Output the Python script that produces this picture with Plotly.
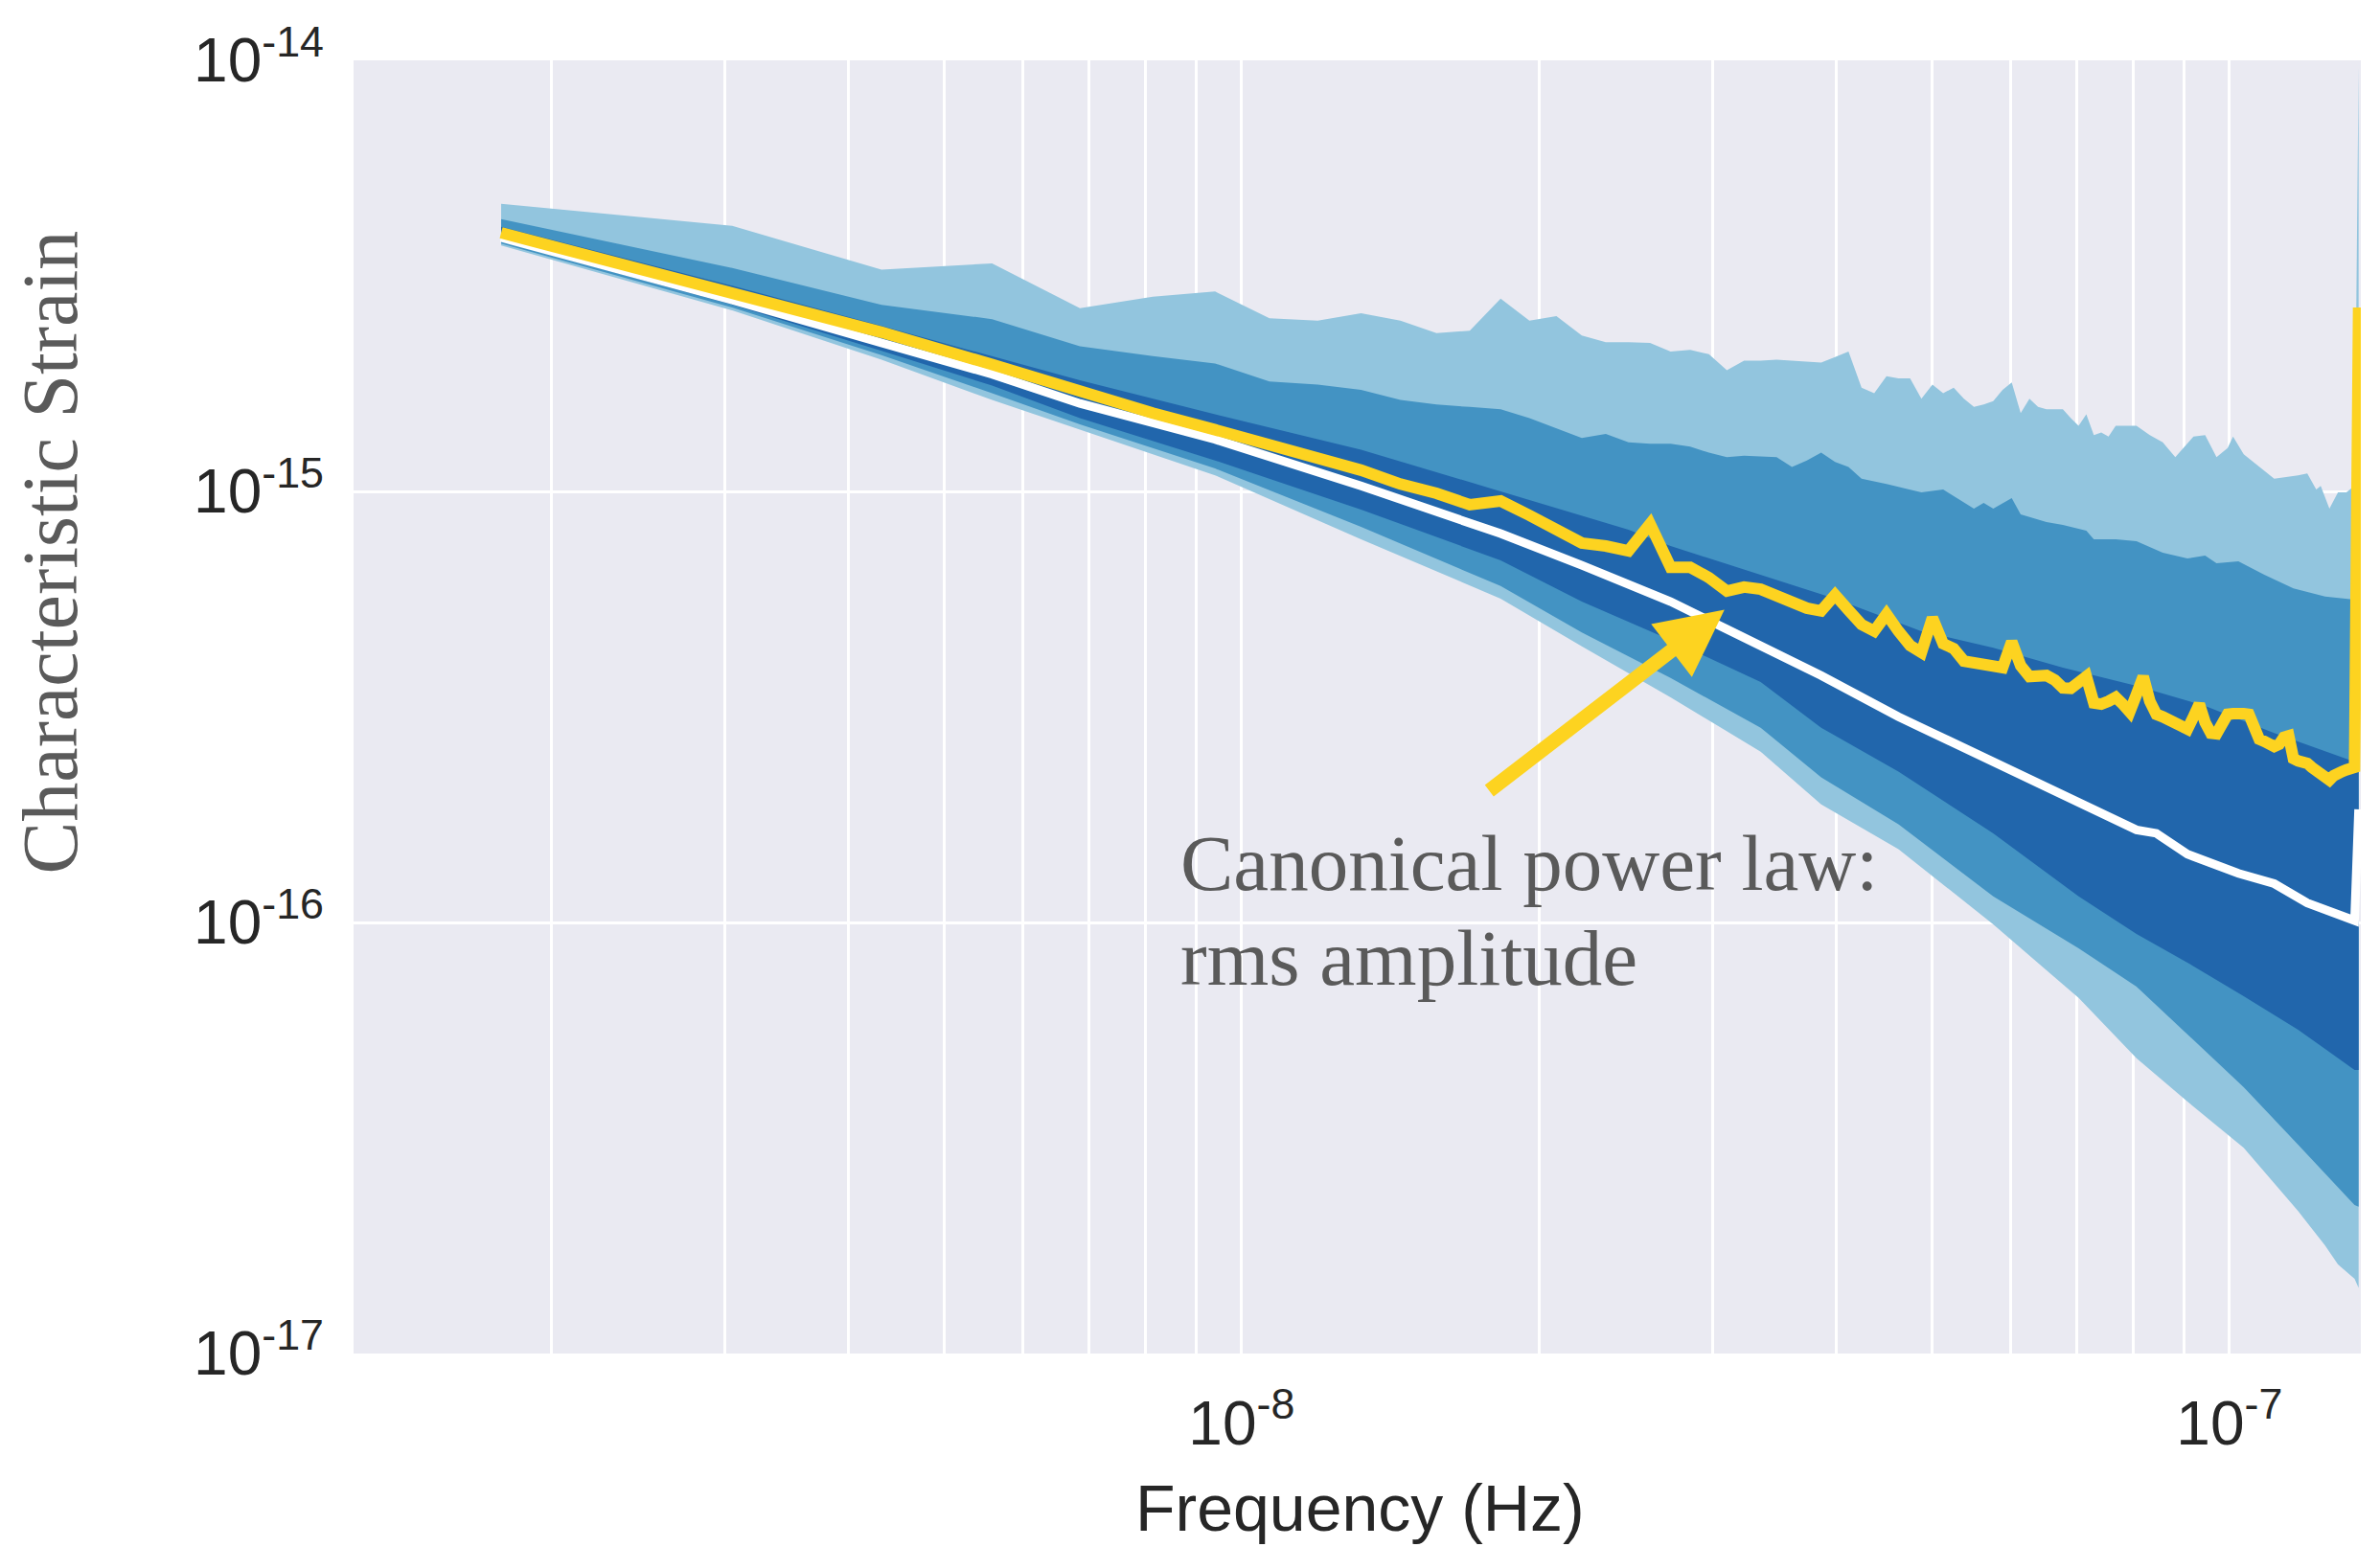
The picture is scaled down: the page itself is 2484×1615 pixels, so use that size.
import plotly.graph_objects as go

# ---------------- data ----------------
# frequency bins (nHz)
freq_nhz = [1.78, 3.05, 4.32, 5.59, 6.86, 8.13, 9.40, 10.67, 11.94, 13.21,
            14.48, 15.75, 17.02, 18.29, 19.56, 20.83, 22.10, 23.37, 24.64, 25.91,
            27.18, 28.45, 29.72, 30.99, 32.26, 33.53, 34.80, 36.07, 37.34, 38.61,
            39.88, 41.15, 42.42, 43.69, 44.96, 46.23, 47.50, 48.77, 50.04, 51.31,
            52.58, 53.85, 55.12, 56.39, 57.66, 58.93, 60.20, 61.47, 62.74, 64.01,
            65.28, 66.55, 67.82, 69.09, 70.36, 71.63, 72.90, 74.17, 75.44, 76.71,
            77.98, 79.25, 80.52, 81.79, 83.06, 84.33, 85.60, 86.87, 88.14, 89.41,
            90.68, 91.95, 93.22, 94.49, 95.76, 97.03, 98.30, 99.57, 100.84, 102.11,
            103.38, 104.65, 105.92, 107.19, 108.46, 109.73, 111.00, 112.27, 113.54, 114.81,
            116.08, 117.35, 118.62, 119.89, 121.16, 122.43, 123.70, 124.97, 126.24, 127.51,
            128.78, 130.05, 131.32, 132.59, 133.86, 135.13]

# canonical power law: rms amplitude (yellow)
rms_strain = [3.98e-15, 2.90e-15, 2.34e-15, 1.97e-15, 1.70e-15, 1.52e-15, 1.39e-15, 1.28e-15, 1.20e-15, 1.12e-15,
              1.04e-15, 9.90e-16, 9.31e-16, 9.50e-16, 8.80e-16, 8.19e-16, 7.59e-16, 7.47e-16, 7.28e-16, 8.40e-16,
              6.67e-16, 6.67e-16, 6.31e-16, 5.87e-16, 6.00e-16, 5.93e-16, 5.70e-16, 5.52e-16, 5.36e-16, 5.28e-16,
              5.75e-16, 5.30e-16, 4.91e-16, 4.74e-16, 5.19e-16, 4.74e-16, 4.39e-16, 4.23e-16, 5.09e-16, 4.43e-16,
              4.32e-16, 4.04e-16, 4.00e-16, 3.96e-16, 3.94e-16, 3.90e-16, 4.48e-16, 3.94e-16, 3.72e-16, 3.72e-16,
              3.74e-16, 3.65e-16, 3.50e-16, 3.49e-16, 3.58e-16, 3.72e-16, 3.23e-16, 3.21e-16, 3.26e-16, 3.33e-16,
              3.21e-16, 3.08e-16, 3.38e-16, 3.72e-16, 3.26e-16, 3.04e-16, 3.00e-16, 2.94e-16, 2.90e-16, 2.84e-16,
              2.81e-16, 3.00e-16, 3.21e-16, 2.91e-16, 2.75e-16, 2.74e-16, 2.90e-16, 3.04e-16, 3.05e-16, 3.07e-16,
              3.05e-16, 3.04e-16, 2.81e-16, 2.66e-16, 2.63e-16, 2.59e-16, 2.56e-16, 2.59e-16, 2.69e-16, 2.71e-16,
              2.40e-16, 2.37e-16, 2.36e-16, 2.34e-16, 2.29e-16, 2.24e-16, 2.20e-16, 2.15e-16, 2.14e-16, 2.19e-16,
              2.23e-16, 2.24e-16, 2.26e-16, 2.27e-16, 2.29e-16, 2.67e-15]

# median (white line)
median_bins = [0, 1, 2, 3, 4, 6, 9, 13, 16, 20, 23, 29, 35, 44, 46, 52, 62, 65, 70, 79, 86, 93, 104, 105]
median_strain = [3.88e-15, 2.78e-15, 2.21e-15, 1.87e-15, 1.60e-15, 1.32e-15, 1.03e-15, 7.98e-16, 6.74e-16, 5.55e-16,
                 4.79e-16, 3.74e-16, 3.00e-16, 2.36e-16, 2.26e-16, 1.98e-16, 1.64e-16, 1.61e-16, 1.44e-16, 1.30e-16,
                 1.23e-16, 1.11e-16, 1.01e-16, 1.83e-16]

# outer band (light) upper edge
outer_upper_bins = list(range(0, 51)) + [52, 53, 54, 55, 56, 57, 58, 59, 60, 62, 64, 66, 68, 71, 73, 75, 77, 78,
                                         80, 83, 86, 91, 93, 95, 96, 98, 100, 102, 104, 105]
outer_upper_strain = [4.65e-15, 4.13e-15, 3.27e-15, 3.38e-15, 2.66e-15, 2.83e-15, 2.91e-15, 2.52e-15, 2.49e-15, 2.59e-15,
                      2.49e-15, 2.33e-15, 2.36e-15, 2.80e-15, 2.49e-15, 2.55e-15, 2.30e-15, 2.22e-15, 2.22e-15, 2.21e-15,
                      2.11e-15, 2.13e-15, 2.08e-15, 1.91e-15, 2.01e-15, 2.01e-15, 2.02e-15, 2.01e-15, 2.00e-15, 1.99e-15,
                      2.05e-15, 2.11e-15, 1.74e-15, 1.69e-15, 1.85e-15, 1.83e-15, 1.83e-15, 1.64e-15, 1.77e-15, 1.69e-15,
                      1.74e-15, 1.64e-15, 1.57e-15, 1.59e-15, 1.62e-15, 1.72e-15, 1.79e-15, 1.52e-15, 1.64e-15, 1.57e-15,
                      1.55e-15,
                      1.55e-15, 1.48e-15, 1.42e-15, 1.51e-15, 1.35e-15, 1.37e-15, 1.34e-15, 1.42e-15, 1.42e-15, 1.42e-15,
                      1.35e-15, 1.30e-15, 1.20e-15, 1.34e-15, 1.35e-15, 1.20e-15, 1.26e-15, 1.34e-15, 1.22e-15, 1.14e-15,
                      1.07e-15, 1.09e-15, 1.10e-15, 1.01e-15, 1.03e-15, 9.12e-16, 9.95e-16, 9.95e-16, 1.03e-15, 9.65e-15]

# middle band (medium) upper edge
middle_upper_bins = [0, 1, 2, 3, 4, 5, 6, 7, 8, 9, 10, 11, 12, 13, 14, 15, 16, 17, 18, 19, 20, 21, 22, 23, 24,
                     26, 27, 28, 29, 30, 31, 32, 34, 37, 39, 42, 43, 44, 46, 47, 50, 52, 55, 56, 59, 62, 66,
                     70, 73, 75, 79, 84, 90, 97, 104, 105]
middle_upper_strain = [4.28e-15, 3.30e-15, 2.71e-15, 2.51e-15, 2.17e-15, 2.06e-15, 1.98e-15, 1.80e-15, 1.77e-15, 1.72e-15,
                       1.63e-15, 1.59e-15, 1.57e-15, 1.55e-15, 1.48e-15, 1.40e-15, 1.33e-15, 1.36e-15, 1.30e-15, 1.29e-15,
                       1.29e-15, 1.27e-15, 1.23e-15, 1.20e-15, 1.21e-15, 1.20e-15, 1.14e-15, 1.18e-15, 1.23e-15, 1.17e-15,
                       1.14e-15, 1.07e-15, 1.04e-15, 9.95e-16, 1.01e-15, 9.12e-16, 9.40e-16, 9.12e-16, 9.65e-16, 8.85e-16,
                       8.49e-16, 8.36e-16, 8.11e-16, 7.74e-16, 7.74e-16, 7.66e-16, 7.21e-16, 6.99e-16, 7.10e-16, 6.81e-16,
                       6.88e-16, 6.41e-16, 5.96e-16, 5.70e-16, 5.61e-16, 2.55e-15]

# inner band (dark) upper edge
inner_upper_bins = [0, 1, 2, 3, 4, 6, 9, 13, 18, 20, 25, 30, 37, 44, 52, 62, 73, 86, 104, 105]
inner_upper_strain = [4.11e-15, 3.00e-15, 2.42e-15, 2.06e-15, 1.81e-15, 1.51e-15, 1.25e-15, 1.00e-15, 8.15e-16, 7.47e-16,
                      6.41e-16, 5.64e-16, 4.74e-16, 4.34e-16, 3.90e-16, 3.54e-16, 3.18e-16, 2.75e-16, 2.36e-16, 6.41e-16]

# lower edges of the three bands
lower_bins = [0, 1, 2, 3, 4, 6, 9, 13, 16, 20, 25, 29, 35, 44, 54, 62, 70, 80, 91, 97, 104, 105]
inner_lower_strain = [3.80e-15, 2.71e-15, 2.12e-15, 1.76e-15, 1.48e-15, 1.18e-15, 9.07e-16, 6.92e-16, 5.55e-16, 4.52e-16,
                      3.61e-16, 2.83e-16, 2.24e-16, 1.61e-16, 1.15e-16, 9.40e-17, 8.07e-17, 6.74e-17, 5.64e-17, 5.09e-17,
                      4.55e-17, 4.55e-17]
middle_lower_strain = [3.76e-15, 2.67e-15, 2.07e-15, 1.69e-15, 1.43e-15, 1.13e-15, 8.28e-16, 6.03e-16, 4.71e-16, 3.69e-16,
                       2.83e-16, 2.17e-16, 1.69e-16, 1.15e-16, 8.71e-17, 7.10e-17, 5.50e-17, 4.15e-17, 3.05e-17, 2.62e-17,
                       2.21e-17, 2.19e-17]
outer_lower_bins = [0, 1, 2, 3, 4, 6, 9, 13, 16, 20, 25, 29, 35, 44, 54, 62, 70, 80, 91, 97, 100, 104, 105]
outer_lower_strain = [3.72e-15, 2.63e-15, 2.02e-15, 1.63e-15, 1.39e-15, 1.09e-15, 7.74e-16, 5.64e-16, 4.37e-16, 3.33e-16,
                      2.49e-16, 1.88e-16, 1.48e-16, 9.90e-17, 6.68e-17, 4.84e-17, 3.84e-17, 3.00e-17, 2.14e-17, 1.78e-17,
                      1.61e-17, 1.49e-17, 1.42e-17]

x_tick_vals = [1e-8, 1e-7]
x_tick_text = ["10<sup>-8</sup>", "10<sup>-7</sup>"]
x_minor_vals = [2e-9, 3e-9, 4e-9, 5e-9, 6e-9, 7e-9, 8e-9, 9e-9,
                2e-8, 3e-8, 4e-8, 5e-8, 6e-8, 7e-8, 8e-8, 9e-8]
y_tick_vals = [1e-17, 1e-16, 1e-15, 1e-14]
y_tick_text = ["10<sup>-17</sup>", "10<sup>-16</sup>", "10<sup>-15</sup>", "10<sup>-14</sup>"]

# ---------------- styles ----------------
C_OUTER = "#92c5de"
C_MIDDLE = "#4393c3"
C_INNER = "#2166ac"
C_RMS = "#FDD320"
BG = "#EAEAF2"
SANS = "Liberation Sans, Arial, sans-serif"
SERIF = "Liberation Serif, Times New Roman, serif"


def hz(bins):
    return [freq_nhz[i] * 1e-9 for i in bins]


def band(ub, uv, lb, lv, color):
    xs = hz(ub) + hz(lb)[::-1]
    ys = list(uv) + list(lv)[::-1]
    return go.Scatter(x=xs, y=ys, mode="lines", fill="toself", fillcolor=color,
                      line=dict(width=0, color=color), hoverinfo="skip", showlegend=False)


fig = go.Figure()
fig.add_trace(band(outer_upper_bins, outer_upper_strain, outer_lower_bins, outer_lower_strain, C_OUTER))
fig.add_trace(band(middle_upper_bins, middle_upper_strain, lower_bins, middle_lower_strain, C_MIDDLE))
fig.add_trace(band(inner_upper_bins, inner_upper_strain, lower_bins, inner_lower_strain, C_INNER))
fig.add_trace(go.Scatter(x=hz(median_bins), y=median_strain, mode="lines",
                         line=dict(color="white", width=9), showlegend=False))
fig.add_trace(go.Scatter(x=hz(range(len(freq_nhz))), y=rms_strain, mode="lines",
                         line=dict(color=C_RMS, width=12), showlegend=False))

fig.update_layout(
    width=2484, height=1615,
    margin=dict(l=369, r=20, t=63, b=202, autoexpand=False),
    paper_bgcolor="white", plot_bgcolor=BG,
    showlegend=False,
    xaxis=dict(type="log", range=[-8.899, -6.867], tickmode="array",
               tickvals=x_tick_vals, ticktext=x_tick_text,
               showgrid=True, gridcolor="white", gridwidth=3,
               minor=dict(tickmode="array", tickvals=x_minor_vals, showgrid=True,
                          gridcolor="white", gridwidth=3, ticks=""),
               zeroline=False, showline=False, ticks="",
               tickfont=dict(family=SANS, size=64, color="#262626"),
               ticklabelstandoff=30),
    yaxis=dict(type="log", range=[-17, -14], tickmode="array",
               tickvals=y_tick_vals, ticktext=y_tick_text,
               showgrid=True, gridcolor="white", gridwidth=3,
               zeroline=False, showline=False, ticks="",
               tickfont=dict(family=SANS, size=64, color="#262626"),
               ticklabelstandoff=30),
)

fig.add_annotation(text="Frequency (Hz)", xref="paper", yref="paper", x=0.5015, y=-0.119,
                   xanchor="center", yanchor="middle", showarrow=False,
                   font=dict(family=SANS, size=68, color="#262626"))
fig.add_annotation(text="Characteristic Strain", xref="paper", yref="paper", x=-0.1511, y=0.62,
                   xanchor="center", yanchor="middle", textangle=-90, showarrow=False,
                   font=dict(family=SERIF, size=82, color="#5a5a5a"))
fig.add_annotation(text="Canonical power law:", x=-8.064, y=-15.8622, xref="x", yref="y",
                   xanchor="left", yanchor="middle", showarrow=False,
                   font=dict(family=SERIF, size=83, color="#5a5a5a"))
fig.add_annotation(text="rms amplitude", x=-8.064, y=-16.0822, xref="x", yref="y",
                   xanchor="left", yanchor="middle", showarrow=False,
                   font=dict(family=SERIF, size=83, color="#5a5a5a"))
fig.add_annotation(text="", x=-7.5112, y=-15.2747, xref="x", yref="y",
                   ax=-247, ay=190, showarrow=True, arrowhead=2, arrowsize=0.93,
                   arrowwidth=15, arrowcolor=C_RMS, standoff=0)

fig.write_html("out.html")
